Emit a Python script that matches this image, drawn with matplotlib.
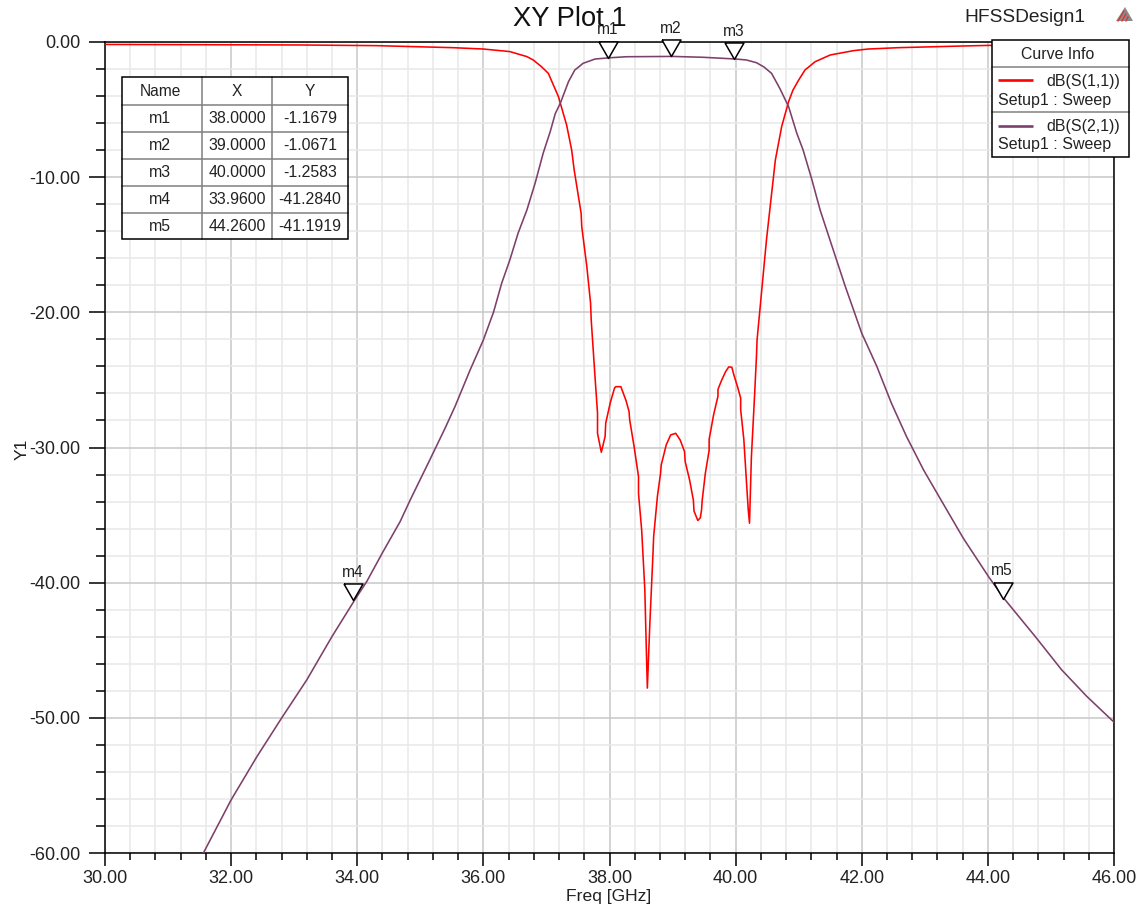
import matplotlib
matplotlib.use("Agg")
import matplotlib.pyplot as plt
from matplotlib.patches import Rectangle, Polygon
from matplotlib.ticker import MultipleLocator, FormatStrFormatter
from matplotlib.transforms import ScaledTranslation

plt.rcParams['font.family'] = ['Liberation Sans', 'DejaVu Sans']

s11_freq = [30.0, 33.09, 34.31, 35.52, 36.0, 36.42, 36.69, 36.79, 36.92, 37.03, 37.19, 37.32, 37.4, 37.44, 37.55, 37.56,
            37.64, 37.70, 37.71, 37.77, 37.81, 37.81, 37.87, 37.93, 37.94, 38.01, 38.08, 38.10, 38.18, 38.26,
            38.31, 38.32, 38.39, 38.46, 38.46, 38.51, 38.56, 38.58, 38.60, 38.64, 38.69, 38.70, 38.76, 38.81,
            38.82, 38.90, 38.97, 39.05, 39.12, 39.19, 39.20, 39.27, 39.33, 39.34, 39.40, 39.44, 39.46, 39.47,
            39.52, 39.58, 39.58, 39.65, 39.72, 39.72, 39.78, 39.84, 39.89, 39.94, 39.97, 40.03, 40.08, 40.08,
            40.13, 40.17, 40.20, 40.22, 40.25, 40.30, 40.33, 40.34, 40.49, 40.63, 40.73, 40.84, 40.91, 41.0, 41.1,
            41.26, 41.5, 41.87, 42.1, 42.58, 43.56, 44.03, 46.0]
s11_db = [-0.18, -0.22, -0.27, -0.42, -0.52, -0.71, -1.08, -1.33, -1.82, -2.32, -4.04, -6.14, -7.99, -9.47, -12.67, -13.66,
          -16.6, -19.33, -20.56, -24.75, -27.46, -28.95, -30.35, -29.19, -28.2, -26.73, -25.6, -25.5, -25.5, -26.5,
          -27.34, -27.96, -29.93, -32.15, -33.4, -36.1, -40.5, -44.2, -47.8, -43.0, -37.8, -36.6, -33.6, -31.9,
          -31.3, -29.8, -29.07, -28.95, -29.44, -30.3, -31.04, -32.4, -33.9, -34.7, -35.4, -35.2, -34.6, -33.9,
          -31.9, -30.2, -29.4, -27.6, -26.2, -25.7, -25.0, -24.4, -24.04, -24.06, -24.6, -25.5, -26.35, -27.2,
          -29.4, -32.4, -34.6, -35.6, -30.7, -26.2, -23.3, -22.04, -14.6, -8.73, -6.26, -4.41, -3.55, -2.81, -2.07,
          -1.46, -0.96, -0.64, -0.52, -0.42, -0.30, -0.25, -0.18]

s21_freq = [31.56, 32.0, 32.41, 32.80, 33.2, 33.6, 33.96, 34.15, 34.41, 34.68, 34.84, 35.15, 35.39, 35.55, 35.79, 36.0,
            36.16, 36.29, 36.42, 36.55, 36.69, 36.82, 36.95, 37.06, 37.14, 37.22, 37.35, 37.45, 37.51, 37.58, 37.77,
            38.0, 38.27, 39.0, 39.48, 40.0, 40.17, 40.33, 40.45, 40.57, 40.7, 40.84, 40.97, 41.07, 41.21, 41.34, 41.47,
            41.6, 41.74, 41.87, 42.0, 42.24, 42.47, 42.71, 42.98, 43.24, 43.61, 44.01, 44.26, 44.75, 45.17, 45.57, 46.0]
s21_db = [-60.0, -56.07, -52.86, -50.02, -47.19, -43.98, -41.28, -39.92, -37.7, -35.48, -33.88, -30.92, -28.6, -26.97,
          -24.26, -22.04, -20.0, -17.85, -16.12, -14.15, -12.43, -10.45, -8.2, -6.63, -5.3, -4.53, -2.93, -2.07, -1.85,
          -1.58, -1.26, -1.168, -1.09, -1.067, -1.13, -1.258, -1.33, -1.53, -1.85, -2.32, -3.43, -4.78, -6.75, -7.99,
          -10.2, -12.43, -14.28, -16.12, -18.1, -19.82, -21.55, -24.01, -26.72, -29.19, -31.66, -33.75, -36.71, -39.55,
          -41.19, -43.98, -46.45, -48.42, -50.32]

marker_names = ['m1', 'm2', 'm3', 'm4', 'm5']
marker_x = [38.0, 39.0, 40.0, 33.96, 44.26]
marker_y = [-1.1679, -1.0671, -1.2583, -41.2840, -41.1919]
marker_x_text = ['38.0000', '39.0000', '40.0000', '33.9600', '44.2600']
marker_y_text = ['-1.1679', '-1.0671', '-1.2583', '-41.2840', '-41.1919']
table_header = ['Name', 'X', 'Y']
legend_curves = ['dB(S(1,1))', 'dB(S(2,1))']
legend_setup = 'Setup1 : Sweep'

W, H = 1140, 906
RED = '#ff0000'
PURPLE = '#7d3f6b'
fig = plt.figure(figsize=(W / 100, H / 100), dpi=100)
ax = fig.add_axes([105 / W, 1 - 853 / H, (1114 - 105) / W, (853 - 42) / H])
ax.set_xlim(30, 46)
ax.set_ylim(-60, 0)

ax.xaxis.set_major_locator(MultipleLocator(2))
ax.xaxis.set_minor_locator(MultipleLocator(0.4))
ax.yaxis.set_major_locator(MultipleLocator(10))
ax.yaxis.set_minor_locator(MultipleLocator(2))
ax.xaxis.set_major_formatter(FormatStrFormatter('%.2f'))
ax.yaxis.set_major_formatter(FormatStrFormatter('%.2f'))
ax.grid(True, which='minor', color='#e8e8e8', lw=1.1, zorder=0)
ax.grid(True, which='major', color='#c8c8c8', lw=1.1, zorder=0.5)
ax.set_axisbelow(True)
ax.tick_params(axis='y', which='major', length=11.5, width=1.1, pad=6.5, labelsize=13, labelcolor='#222222')
ax.tick_params(axis='y', which='minor', length=6.2, width=1.1)
ax.tick_params(axis='x', which='major', length=9.4, width=1.1, pad=2.5, labelsize=13, labelcolor='#222222')
ax.tick_params(axis='x', which='minor', length=5, width=1.1)
for s in ax.spines.values():
    s.set_linewidth(1.1)

ax.plot(s11_freq, s11_db, color=RED, lw=1.15, zorder=3)
ax.plot(s21_freq, s21_db, color=PURPLE, lw=1.15, zorder=3.1)

# markers: downward triangle with its tip on the data point
tri = [(-9.5, 16.5), (9.5, 16.5), (0, 0), (-9.5, 16.5)]
offset = ax.transData + ScaledTranslation(-1.5 / 100, 0, fig.dpi_scale_trans)
ax.plot(marker_x, marker_y, ls='none', marker=tri, ms=23.8, mfc='white', mec='black', mew=1.1,
        transform=offset, clip_on=False, zorder=5)
for n, mx, my in zip(marker_names, marker_x, marker_y):
    ax.annotate(n, (mx, my), xytext=(-1.5, 28 * 0.72), textcoords='offset points', ha='center', va='center',
                fontsize=11.2, color='#222222', zorder=6, annotation_clip=False)

fig.text(609 / W, 1 - 896 / H, 'Freq [GHz]', ha='center', va='center', fontsize=12.6, color='#222222')
fig.text(22 / W, 1 - 449 / H, 'Y1', ha='center', va='center', rotation=90, fontsize=12.6, color='#222222')
fig.text(570 / W, 1 - 19 / H, 'XY Plot 1', ha='center', va='center', fontsize=19.7, color='#111111', zorder=10)
fig.text(1025 / W, 1 - 18 / H, 'HFSSDesign1', ha='center', va='center', fontsize=13.8, color='#222222')

# overlay in pixel coordinates for table, legend box and logo
ov = fig.add_axes([0, 0, 1, 1], facecolor='none')
ov.set_xlim(0, W)
ov.set_ylim(H, 0)
ov.axis('off')

# marker table
tx0, tx1, ty0, ty1 = 121.7, 348.3, 77.3, 239.3
col_lines = [201.7, 272.0]
row_lines = [104.7, 131.7, 158.7, 185.7, 212.7]
ov.add_patch(Rectangle((tx0, ty0), tx1 - tx0, ty1 - ty0, fc='white', ec='none', zorder=1))
for c in col_lines:
    ov.plot([c, c], [ty0, ty1], color='#808080', lw=1.1, zorder=2)
for r in row_lines:
    ov.plot([tx0, tx1], [r, r], color='#808080', lw=1.1, zorder=2)
ov.add_patch(Rectangle((tx0, ty0), tx1 - tx0, ty1 - ty0, fc='none', ec='black', lw=1.1, zorder=3))
col_c = [160, 237, 310]
for c, t in zip(col_c, table_header):
    ov.text(c, 91, t, ha='center', va='center', fontsize=11.2, color='#222222', zorder=4)
for i, (n, xs, ys) in enumerate(zip(marker_names, marker_x_text, marker_y_text)):
    yy = 118.5 + 27 * i
    for c, t in zip(col_c, (n, xs, ys)):
        ov.text(c, yy, t, ha='center', va='center', fontsize=11.4, color='#222222', zorder=4)

# curve info box
lx0, lx1, ly0, ly1 = 991.7, 1129.3, 40.0, 156.7
ov.add_patch(Rectangle((lx0, ly0), lx1 - lx0, ly1 - ly0, fc='white', ec='none', zorder=1))
for r in (67.3, 112.3):
    ov.plot([lx0, lx1], [r, r], color='#808080', lw=1.1, zorder=2)
ov.add_patch(Rectangle((lx0, ly0), lx1 - lx0, ly1 - ly0, fc='none', ec='black', lw=1.1, zorder=3))
ov.text(1057.3, 54.5, 'Curve Info', ha='center', va='center', fontsize=11.4, color='#222222', zorder=4)
for name, col, y_l, y_c, y_s in zip(legend_curves, (RED, PURPLE), (80.3, 125.7), (81.5, 127), (100, 145)):
    ov.plot([997.7, 1033.3], [y_l, y_l], color=col, lw=1.9, zorder=4, solid_capstyle='butt')
    ov.text(1046, y_c, name, ha='left', va='center', fontsize=11.5, color='#222222', zorder=4)
    ov.text(998, y_s, legend_setup, ha='left', va='center', fontsize=11.5, color='#222222', zorder=4)

# logo
ov.add_patch(Polygon([(1116, 21), (1133, 21), (1125, 7)], closed=True, fc='#8a8a8a', ec='none', zorder=2))
for a, b in [((1118, 21), (1124, 11)), ((1122, 21), (1126, 14)), ((1126, 21), (1128, 17))]:
    ov.plot([a[0], b[0]], [a[1], b[1]], color='#e03030', lw=0.9, zorder=3)

fig.savefig('out.png', dpi=100)
